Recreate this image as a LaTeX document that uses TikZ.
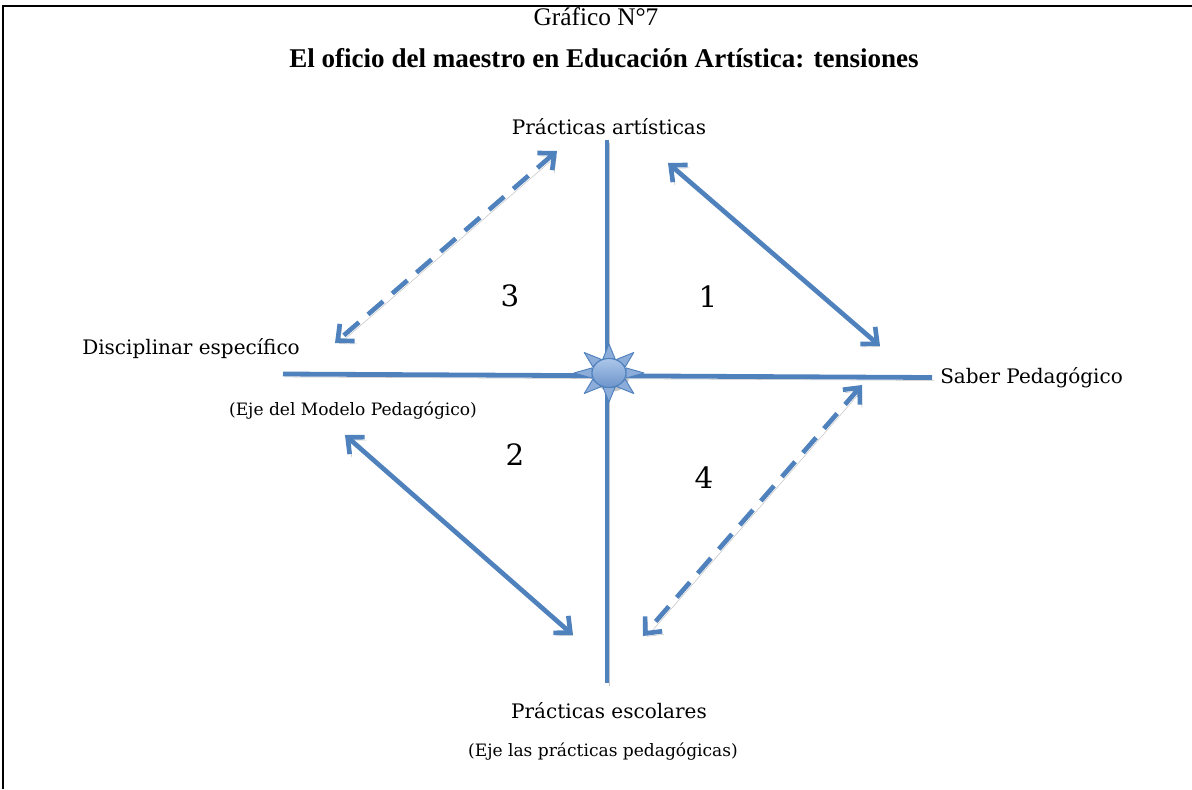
\documentclass[tikz,border=0pt]{standalone}
\usepackage{fontspec}
\setmainfont{Liberation Serif}
\newfontfamily\labelfont{DejaVu Serif}
\usetikzlibrary{arrows.meta,calc}
\definecolor{axisblue}{RGB}{79,129,189}
\definecolor{shadowgray}{RGB}{196,196,196}
\definecolor{sunlight}{RGB}{172,198,232}
\definecolor{sundark}{RGB}{108,148,204}
\definecolor{raylight}{RGB}{140,172,218}
\begin{document}
\begin{tikzpicture}[x=0.75pt,y=-0.75pt,
  frame/.style={draw=black,line width=1.5pt},
  axisline/.style={draw=axisblue,line width=3.6pt,
    preaction={draw=shadowgray,transform canvas={shift={(1.5pt,-2.2pt)}}}},
  twoway/.style={axisline,line width=3.5pt,<->,
    >={Straight Barb[length=9.5pt,width=17pt]}},
  brokenway/.style={twoway,dash pattern=on 15pt off 9pt},
  txt/.style={inner sep=0pt,font=\labelfont\fontsize{15}{18}\selectfont},
  smalltxt/.style={inner sep=0pt,font=\labelfont\fontsize{12.8}{15}\selectfont},
  numtxt/.style={inner sep=0pt,font=\labelfont\fontsize{22}{26}\selectfont},
  ray/.style={fill=raylight,draw=axisblue,line width=0.7pt,line join=round}
]
\useasboundingbox (0,0) rectangle (1192,789);

% page frame: top and left rules
\coordinate (fTL) at (3,6);
\coordinate (fTR) at (1192,6);
\coordinate (fBL) at (3,789);
\draw[frame] (fBL) -- (fTL) -- (fTR);

% headings
\node[inner sep=0pt,font=\fontsize{19}{22}\selectfont] (num) at (596,17) {Gráfico N°7};
\node[inner sep=0pt,font=\bfseries\fontsize{20.3}{23}\selectfont] (title) at (604,58)
  {El oficio del maestro en Educación Artística: tensiones};

% axis labels
\node[txt] (top) at (609,127) {Prácticas artísticas};
\node[txt,anchor=west] (left) at (82,349) {Disciplinar específico};
\node[smalltxt] (leftsub) at (353,411) {(Eje del Modelo Pedagógico)};
\node[txt,anchor=west] (right) at (940,378) {Saber Pedagógico};
\node[txt] (bottom) at (609,711) {Prácticas escolares};
\node[smalltxt] (bottomsub) at (603,752) {(Eje las prácticas pedagógicas)};

% quadrant numbers
\node[numtxt] (q3) at (510,296) {3};
\node[numtxt] (q1) at (708,297) {1};
\node[numtxt] (q2) at (515,455) {2};
\node[numtxt] (q4) at (704,478) {4};

% axes
\coordinate (vT) at (607,140);
\coordinate (vB) at (607,683);
\coordinate (hL) at (283,374);
\coordinate (hR) at (932,377.5);
\draw[axisline] (vT) -- (vB);
\draw[axisline] (hL) -- (hR);

% tension arrows
\coordinate (a1s) at (668,163);
\coordinate (a1e) at (880,346);
\coordinate (a3s) at (557,151);
\coordinate (a3e) at (335,343);
\coordinate (a2s) at (345,435);
\coordinate (a2e) at (573,635);
\coordinate (a4s) at (862,385);
\coordinate (a4e) at (643,636);
\draw[twoway] (a1s) -- (a1e);
\draw[twoway] (a2s) -- (a2e);
\draw[brokenway] (a3s) -- (a3e);
\draw[brokenway] (a4s) -- (a4e);

% central sun
\coordinate (sun) at (609,373);
\fill[shadowgray] ($(sun)+(3,4)$) ellipse [x radius=17, y radius=14.5];
\foreach \a in {0,45,...,315}{
  \draw[ray] ($(sun)+({35*cos(\a)},{29*sin(\a)})$)
    -- ($(sun)+({18*cos(\a+20)},{15*sin(\a+20)})$)
    -- ($(sun)+({18*cos(\a-20)},{15*sin(\a-20)})$) -- cycle;
}
\shade[top color=sunlight,bottom color=sundark,draw=axisblue,line width=0.8pt]
  (sun) ellipse [x radius=17, y radius=14.5];
\end{tikzpicture}
\end{document}
